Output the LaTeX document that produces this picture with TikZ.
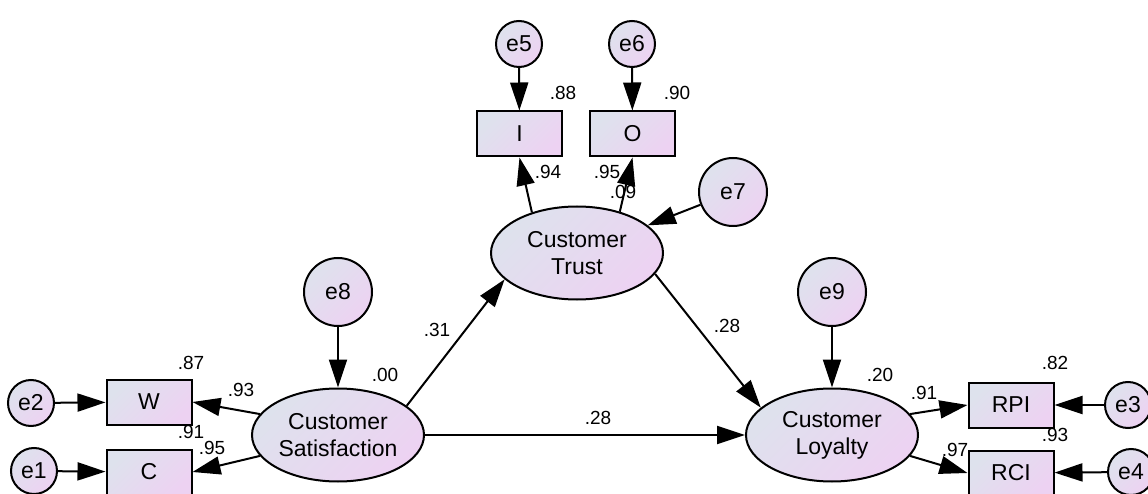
\documentclass[tikz,border=0pt]{standalone}
\usepackage{fontspec}
\setmainfont{Liberation Sans}
\usetikzlibrary{arrows.meta,shapes.geometric}
\definecolor{fillleft}{RGB}{222,226,237}
\definecolor{fillright}{RGB}{237,210,242}

\begin{document}
\begin{tikzpicture}[x=1pt, y=-1pt, >={Triangle[length=28pt,width=18pt]},
    every node/.style={font=\fontsize{23}{27}\selectfont},
    fillgrad/.style={draw=black, line width=2pt, top color=fillleft, bottom color=fillright, shading angle=45},
    latent/.style={fillgrad, ellipse, minimum width=172pt, minimum height=93pt, inner sep=0pt, align=center},
    obs/.style={fillgrad, rectangle, minimum width=85pt, minimum height=45pt, inner sep=0pt},
    err/.style={fillgrad, circle, minimum size=46pt, inner sep=0pt},
    errbig/.style={fillgrad, circle, minimum size=68pt, inner sep=0pt},
    num/.style={font=\fontsize{19}{22}\selectfont, inner sep=0pt},
    link/.style={->, line width=2pt}]
    \useasboundingbox (0,0) rectangle (1148,494);

    % Trust block
    \node[err] (e5) at (519,44) {e5};
    \node[err] (e6) at (632,44) {e6};
    \node[obs] (I) at (519.5,134) {I};
    \node[obs] (O) at (632.5,134) {O};
    \node[errbig] (e7) at (733,192) {e7};
    \node[latent] (trust) at (577,253) {Customer\\Trust};

    % Satisfaction and loyalty
    \node[errbig] (e8) at (338,292) {e8};
    \node[errbig] (e9) at (832,292) {e9};
    \node[latent] (sat) at (338,435) {Customer\\Satisfaction};
    \node[latent] (loy) at (832,435) {Customer\\Loyalty};

    % Indicators, left
    \node[obs] (W) at (149,402) {W};
    \node[obs] (C) at (149,472) {C};
    \node[err] (e2) at (31,403) {e2};
    \node[err] (e1) at (34,471) {e1};

    % Indicators, right
    \node[obs] (RPI) at (1011,405) {RPI};
    \node[obs] (RCI) at (1011,473) {RCI};
    \node[err] (e3) at (1128,405) {e3};
    \node[err] (e4) at (1131,472) {e4};

    % Paths
    \draw[link] (e5) -- (I);
    \draw[link] (e6) -- (O);
    \draw[link] (trust.138) -- (I.south);
    \draw[link] (trust.44) -- (O.south);
    \draw[link] (e7) -- (trust);
    \draw[link] (e8) -- (sat);
    \draw[link] (e9) -- (loy);
    \draw[link] (sat.23) -- (trust.200);
    \draw[link] (trust.-15) -- (loy.159);
    \draw[link] (sat) -- (loy);
    \draw[link] (sat.165) -- (W.east);
    \draw[link] (sat.195) -- (C.east);
    \draw[link] (e2) -- (W);
    \draw[link] (e1) -- (C);
    \draw[link] (loy.15) -- (RPI.west);
    \draw[link] (loy.-15) -- (RCI.west);
    \draw[link] (e3) -- (RPI);
    \draw[link] (e4) -- (RCI);

    % Estimates
    \node[num] (rI) at (563,93) {.88};
    \node[num] (rO) at (677,93) {.90};
    \node[num] (lI) at (548,172) {.94};
    \node[num] (lO) at (607,172) {.95};
    \node[num] (rT) at (623,192) {.09};
    \node[num] (bST) at (437,330) {.31};
    \node[num] (bTL) at (727,326) {.28};
    \node[num] (rS) at (385,375) {.00};
    \node[num] (bSL) at (598,418) {.28};
    \node[num] (rL) at (880,375) {.20};
    \node[num] (rW) at (191,363) {.87};
    \node[num] (lW) at (241,390) {.93};
    \node[num] (rC) at (191,432) {.91};
    \node[num] (lC) at (212,448) {.95};
    \node[num] (rRPI) at (1055,363) {.82};
    \node[num] (lRPI) at (924,393) {.91};
    \node[num] (rRCI) at (1055,435) {.93};
    \node[num] (lRCI) at (955,450) {.97};
\end{tikzpicture}
\end{document}
